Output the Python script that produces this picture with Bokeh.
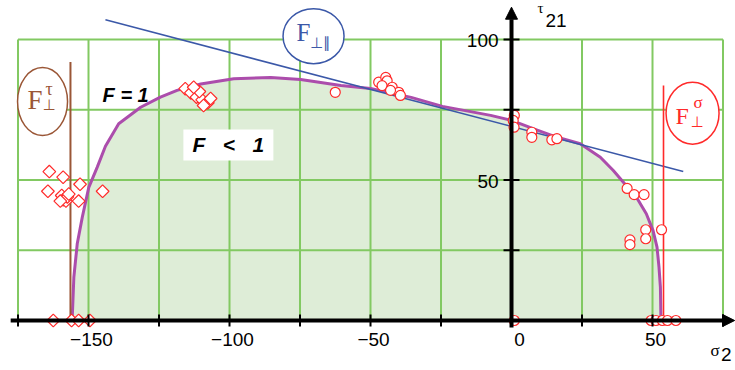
import numpy as np
from bokeh.plotting import figure
from bokeh.models import Range1d, Arrow, NormalHead
from bokeh.core.properties import value
from bokeh.embed import file_html
from bokeh.resources import INLINE

# ---------------- data ----------------
grid_x = [-175, -150, -125, -100, -75, -50, -25, 0, 25, 50, 75]
grid_y = [0, 25, 50, 75, 100]
xtick_vals = [-150, -100, -50, 0, 50]
xtick_labels = ["\u2212150", "\u2212100", "\u221250", "0", "50"]
ytick_marks = [25, 50, 75, 100]
ytick_vals = [50, 100]
ytick_labels = ["50", "100"]

# fracture envelope F = 1  (sigma2, tau21)
env_x = [-155.8, -155.2, -154.0, -152.2, -149.9, -146.9, -144.0, -139.3, -131.5,
         -124.5, -118.6, -110.2, -98.5, -85.4, -74.8, -60.5, -50.0, -35.6, -24.5,
         -7.4, 0.0, 7.9, 16.2, 24.4, 31.5, 36.1, 40.2, 44.3, 47.8, 50.2, 51.6,
         52.3, 52.8, 53.0]
env_y = [0.0, 15.4, 27.3, 36.8, 47.4, 54.6, 62.0, 70.0, 75.9,
         79.5, 81.9, 84.2, 86.0, 86.5, 85.8, 83.6, 82.6, 79.4, 76.2,
         73.0, 71.2, 68.2, 65.2, 62.9, 58.1, 53.4, 48.6, 43.9, 38.0, 32.0, 26.1,
         19.0, 11.9, 0.0]

# F_perp_par tangent line
tan_x = [-144.0, 60.9]
tan_y = [107.0, 53.0]

# F_perp_tau and F_perp_sigma limits
ftau_x = -156.4
ftau_top = 92.0
fsig_x = 53.9
fsig_top = 83.6

# test points (compression side: diamonds)
dia_x = [-163.9, -159.0, -164.4, -153.0, -145.0, -153.5, -159.5, -159.0, -158.0,
         -157.5, -160.0, -157.0,
         -162.5, -156.0, -153.5, -149.5,
         -115.7, -113.7, -111.7, -109.7, -107.7, -106.7, -110.7, -112.7, -109.2]
dia_y = [53.0, 51.0, 46.0, 48.5, 46.0, 42.5, 44.5, 43.0, 42.5,
         44.0, 42.5, 45.0,
         0.0, 0.0, 0.0, 0.0,
         82.5, 81.0, 79.5, 78.5, 77.5, 79.0, 81.5, 83.0, 76.5]

# test points (tension side: circles)
cir_x = [-62.5, -47.1, -44.6, -44.1, -45.9, -42.3, -40.0, -39.4, -42.9,
         1.0, 0.6, 0.9, 7.2, 7.2, 14.3, 16.1,
         41.0, 43.5, 47.0, 47.6, 47.6, 53.2, 42.0, 42.0,
         49.5, 51.2, 53.5, 55.3, 58.3, 1.0]
cir_y = [81.2, 84.8, 86.5, 85.3, 83.6, 83.0, 81.2, 80.1, 81.9,
         73.0, 71.2, 68.8, 67.0, 65.2, 64.3, 64.7,
         47.0, 44.8, 44.8, 32.3, 29.1, 32.3, 28.7, 27.0,
         0.0, 0.0, 0.0, 0.0, 0.0, 0.0]

# ---------------- styles ----------------
GRID = "#82c962"
FILL = "#deedd7"
PURPLE = "#ac4dac"
BLUE = "#3b58a8"
BROWN = "#9a5636"
RED = "#ff2a2a"

W, H = 735, 370
XR = (-181.21, 79.43)
YR = (-17.79, 113.88)
PXX = W / (XR[1] - XR[0])
PXY = H / (YR[1] - YR[0])

p = figure(width=W, height=H, x_range=Range1d(*XR), y_range=Range1d(*YR),
           output_backend="svg", toolbar_location=None,
           x_axis_location=None, y_axis_location=None, min_border=0)
p.grid.grid_line_color = None
p.outline_line_color = None
p.background_fill_color = "white"
p.border_fill_color = "white"

# region F < 1
p.patch(env_x, env_y, fill_color=FILL, line_color=None)

# grid
p.segment(x0=grid_x, y0=[grid_y[0]] * len(grid_x), x1=grid_x, y1=[grid_y[-1]] * len(grid_x),
          line_color=GRID, line_width=2)
p.segment(x0=[grid_x[0]] * len(grid_y), y0=grid_y, x1=[grid_x[-1]] * len(grid_y), y1=grid_y,
          line_color=GRID, line_width=2)

# white label box
p.rect(x=[-100.4], y=[62.5], width=90, height=31, width_units="screen",
       height_units="screen", fill_color="white", line_color=None)

# envelope and limits
p.line(env_x, env_y, line_color=PURPLE, line_width=3)
p.line(tan_x, tan_y, line_color=BLUE, line_width=1.5)
p.segment(x0=[ftau_x], y0=[0], x1=[ftau_x], y1=[ftau_top], line_color=BROWN, line_width=2)
p.segment(x0=[fsig_x], y0=[0], x1=[fsig_x], y1=[fsig_top], line_color=RED, line_width=1.6)

# ellipses with labels
p.ellipse(x=[-166.3], y=[77.9], width=50, height=68, width_units="screen",
          height_units="screen", fill_color="white", line_color=BROWN, line_width=1.5)
p.ellipse(x=[-70.2], y=[101.2], width=61, height=55, width_units="screen",
          height_units="screen", fill_color="white", line_color=BLUE, line_width=1.5)
p.ellipse(x=[64.2], y=[73.8], width=53, height=62, width_units="screen",
          height_units="screen", fill_color="white", line_color=RED, line_width=1.5)

serif = value("Liberation Serif")
sym = value("DejaVu Sans")
MID = "middle"
p.text(x=[-166.3], y=[77.9], text=["F"], x_offset=-15, y_offset=-2, text_font=serif,
       text_font_size="27px", text_color=BROWN, text_baseline=MID)
p.text(x=[-166.3], y=[77.9], text=["\u03c4"], x_offset=3, y_offset=-13, text_font=serif,
       text_font_size="18px", text_color=BROWN, text_baseline=MID)
p.text(x=[-166.3], y=[77.9], text=["\u22a5"], x_offset=0, y_offset=3, text_font=sym,
       text_font_size="15px", text_color=BROWN, text_baseline=MID)

p.text(x=[-70.2], y=[101.2], text=["F"], x_offset=-17, y_offset=-4, text_font=serif,
       text_font_size="25px", text_color=BLUE, text_baseline=MID)
p.text(x=[-70.2], y=[101.2], text=["\u22a5\u2225"], x_offset=-3.5, y_offset=7, text_font=sym,
       text_font_size="15px", text_color=BLUE, text_baseline=MID)

p.text(x=[64.2], y=[73.8], text=["F"], x_offset=-17, y_offset=2.5, text_font=serif,
       text_font_size="24px", text_color=RED, text_baseline=MID)
p.text(x=[64.2], y=[73.8], text=["\u03c3"], x_offset=1, y_offset=-10.5, text_font=serif,
       text_font_size="17px", text_color=RED, text_baseline=MID)
p.text(x=[64.2], y=[73.8], text=["\u22a5"], x_offset=-2, y_offset=9, text_font=sym,
       text_font_size="15px", text_color=RED, text_baseline=MID)

# region labels
bi = value("Liberation Sans")
p.text(x=[-145.0], y=[80.1], text=["F = 1"], text_font=bi, text_font_size="20px",
       text_font_style="bold italic", text_color="black", text_baseline=MID)
p.text(x=[-100.4], y=[62.5], text=["F\u00a0\u00a0\u00a0<\u00a0\u00a0\u00a01"], text_font=bi,
       text_font_size="21px", text_font_style="bold italic", text_color="black",
       text_align="center", text_baseline=MID)

# test points
p.scatter(dia_x, dia_y, marker="square", angle=np.pi / 4, size=9, line_color=RED,
          fill_color="white", line_width=1.2)
p.scatter(cir_x, cir_y, marker="circle", size=10, line_color=RED,
          fill_color="white", line_width=1.2)

# axes
p.add_layout(Arrow(end=NormalHead(size=12, line_color="black", fill_color="black"),
                   x_start=-177.6, y_start=0, x_end=XR[1] - 0.3, y_end=0,
                   line_width=4, line_color="black"))
p.add_layout(Arrow(end=NormalHead(size=12, line_color="black", fill_color="black"),
                   x_start=0, y_start=-7 / PXY, x_end=0, y_end=111.5,
                   line_width=4, line_color="black"))
tx = 6 / PXY
p.segment(x0=grid_x, y0=[-tx] * len(grid_x), x1=grid_x, y1=[tx] * len(grid_x),
          line_color="black", line_width=2)
ty = 8 / PXX
p.segment(x0=[-ty] * len(ytick_marks), y0=ytick_marks, x1=[ty] * len(ytick_marks),
          y1=ytick_marks, line_color="black", line_width=2)

tick_font = value("Liberation Sans")
nz = [i for i, v in enumerate(xtick_vals) if v != 0]
zr = [i for i, v in enumerate(xtick_vals) if v == 0]
p.text(x=[xtick_vals[i] for i in nz], y=[0] * len(nz), text=[xtick_labels[i] for i in nz],
       x_offset=3, y_offset=19, text_font=tick_font, text_font_size="19px",
       text_color="black", text_align="center", text_baseline=MID)
p.text(x=[xtick_vals[i] for i in zr], y=[0] * len(zr), text=[xtick_labels[i] for i in zr],
       x_offset=8, y_offset=19, text_font=tick_font, text_font_size="19px",
       text_color="black", text_align="center", text_baseline=MID)
p.text(x=[0] * len(ytick_vals), y=ytick_vals, text=ytick_labels, x_offset=-13, y_offset=1,
       text_font=tick_font, text_font_size="19px", text_color="black",
       text_align="right", text_baseline=MID)

# axis titles
p.text(x=[0], y=[100], text=["\u03c4"], x_offset=26, y_offset=-32, text_font=serif,
       text_font_size="15px", text_color="black", text_baseline=MID)
p.text(x=[0], y=[100], text=["21"], x_offset=34, y_offset=-19.5, text_font=tick_font,
       text_font_size="19px", text_color="black", text_baseline=MID)
p.text(x=[75], y=[0], text=["\u03c3"], x_offset=-12.5, y_offset=30, text_font=serif,
       text_font_size="17px", text_color="black", text_baseline=MID)
p.text(x=[75], y=[0], text=["2"], x_offset=-2, y_offset=33.5, text_font=tick_font,
       text_font_size="19px", text_color="black", text_baseline=MID)

open("out.html", "w").write(file_html(p, INLINE))
